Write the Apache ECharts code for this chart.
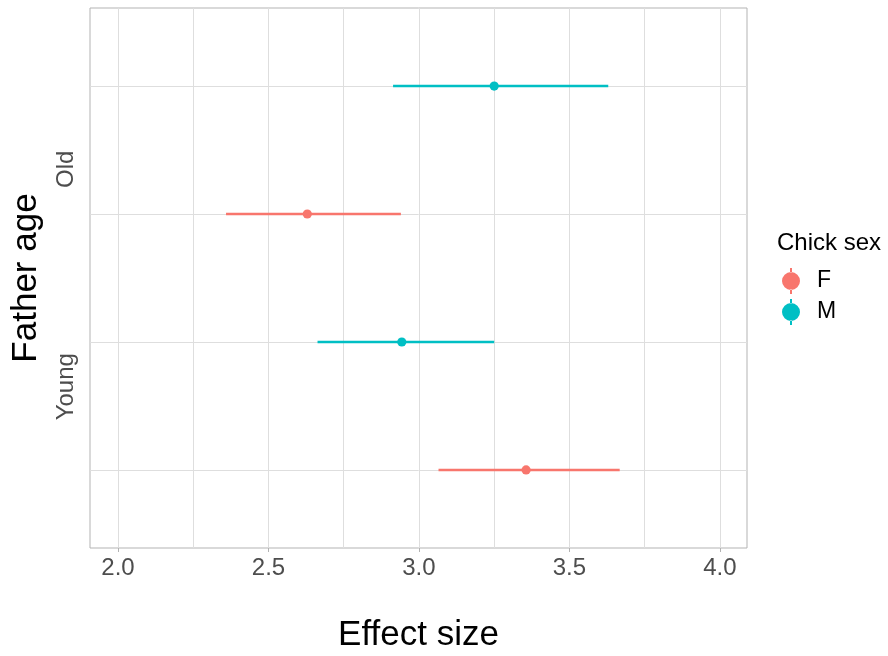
<!DOCTYPE html>
<html>
<head>
<meta charset="utf-8">
<script src="https://cdn.jsdelivr.net/npm/echarts@6/dist/echarts.min.js"></script>
<style>
  html, body { margin: 0; padding: 0; background: #fff; }
  #main { width: 888px; height: 656px; }
</style>
</head>
<body>
<div id="main"></div>
<script>
// Effect size by father age and chick sex (point estimate + interval)

var ages = ['Young', 'Old'];
var sexes = ['F', 'M'];
var sexColors = ['#F8766D', '#00BFC4'];

// row on the y scale for each age/sex combination
var rowF = [1, 3];
var rowM = [2, 4];

var estF = [3.356, 2.629];
var lowF = [3.065, 2.359];
var highF = [3.667, 2.940];

var estM = [2.943, 3.250];
var lowM = [2.663, 2.914];
var highM = [3.250, 3.629];

var xTicks = [2.0, 2.5, 3.0, 3.5, 4.0];
var xGrid = [2.0, 2.25, 2.5, 2.75, 3.0, 3.25, 3.5, 3.75, 4.0];
var yGrid = [1, 2, 3, 4];
var yLabelPos = [1.65, 3.35];

function rows(row, low, est, high) {
  return row.map(function (r, i) { return [low[i], est[i], high[i], r]; });
}

function renderRange(params, api) {
  var y = api.value(3);
  var a = api.coord([api.value(0), y]);
  var m = api.coord([api.value(1), y]);
  var b = api.coord([api.value(2), y]);
  var color = api.visual('color');
  return {
    type: 'group',
    children: [
      { type: 'line', shape: { x1: a[0], y1: a[1], x2: b[0], y2: b[1] },
        style: { stroke: color, lineWidth: 2.5 } },
      { type: 'circle', shape: { cx: m[0], cy: m[1], r: 4.6 },
        style: { fill: color } }
    ]
  };
}

// pointrange key glyph: dot with short vertical stubs above and below
var legendIcon = 'path://M8,0h2v4.5h-2z M8,21.5h2v4.5h-2z M0,13a9,9 0 1,0 18,0a9,9 0 1,0 -18,0z';

var myChart = echarts.init(document.getElementById('main'));

var option = {
  backgroundColor: '#ffffff',
  animation: false,
  title: {
    text: 'Chick sex',
    left: 772,
    top: 226,
    textStyle: { fontSize: 24, fontWeight: 'normal', color: '#000', fontFamily: 'Liberation Sans' }
  },
  legend: {
    orient: 'vertical',
    left: 782,
    top: 268,
    padding: 0,
    itemWidth: 18,
    itemHeight: 26,
    itemGap: 5,
    data: sexes.map(function (s) { return { name: s, icon: legendIcon }; }),
    textStyle: { fontSize: 23, color: '#000', fontFamily: 'Liberation Sans', padding: [0, 0, 0, 12] }
  },
  grid: {
    left: 90, right: 141, top: 8, bottom: 108,
    containLabel: false,
    outerBoundsMode: 'none',
    show: true,
    borderColor: '#B3B3B3',
    borderWidth: 1,
    backgroundColor: '#ffffff'
  },
  xAxis: [
    {
      type: 'value',
      min: 1.907,
      max: 4.09,
      name: 'Effect size',
      nameLocation: 'middle',
      nameGap: 70,
      nameTextStyle: { fontSize: 35, color: '#000', fontFamily: 'Liberation Sans' },
      axisLine: { show: false },
      axisTick: { show: true, customValues: xTicks, length: 4, lineStyle: { color: '#B3B3B3' } },
      axisLabel: {
        customValues: xTicks,
        fontSize: 24,
        color: '#4D4D4D',
        fontFamily: 'Liberation Sans',
        margin: 8,
        formatter: function (v) { return v.toFixed(1); }
      },
      splitLine: { show: false }
    },
    {
      type: 'value',
      min: 1.907,
      max: 4.09,
      position: 'bottom',
      axisLine: { show: false },
      axisTick: { show: false, customValues: xGrid },
      axisLabel: { show: false },
      splitLine: { show: true, lineStyle: { color: '#DEDEDE', width: 1 } }
    }
  ],
  yAxis: {
    type: 'value',
    min: 0.39,
    max: 4.61,
    name: 'Father age',
    nameLocation: 'middle',
    nameGap: 46,
    nameTextStyle: { fontSize: 35, color: '#000', fontFamily: 'Liberation Sans' },
    axisLine: { show: false },
    axisTick: { show: false, customValues: yGrid },
    axisLabel: {
      customValues: yLabelPos,
      rotate: 90,
      fontSize: 24,
      color: '#4D4D4D',
      fontFamily: 'Liberation Sans',
      margin: 12,
      formatter: function (v) { return v < 2.5 ? ages[0] : ages[1]; }
    },
    splitLine: { show: true, lineStyle: { color: '#DEDEDE', width: 1 } }
  },
  series: [
    {
      name: sexes[0],
      type: 'custom',
      color: sexColors[0],
      renderItem: renderRange,
      encode: { x: [0, 1, 2], y: 3 },
      data: rows(rowF, lowF, estF, highF),
      z: 3
    },
    {
      name: sexes[1],
      type: 'custom',
      color: sexColors[1],
      renderItem: renderRange,
      encode: { x: [0, 1, 2], y: 3 },
      data: rows(rowM, lowM, estM, highM),
      z: 3
    }
  ]
};

myChart.setOption(option);
</script>
</body>
</html>
